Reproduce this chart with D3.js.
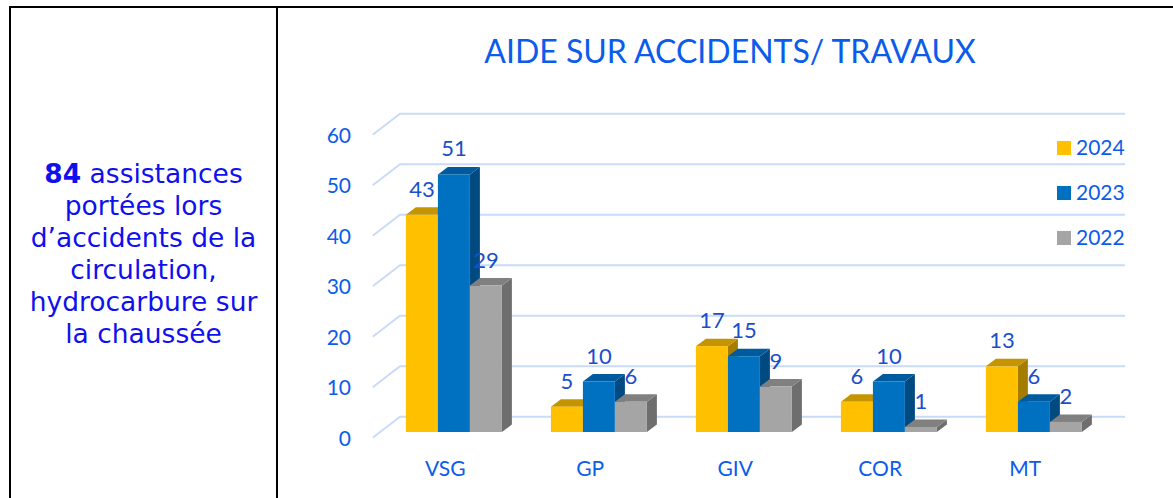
<!DOCTYPE html>
<html>
<head>
<meta charset="utf-8">
<script src="https://cdn.jsdelivr.net/npm/d3@7"></script>
<style>
  body { margin: 0; background: #fff; }
</style>
</head>
<body>
<script>
// Width and height
var w = 1173;
var h = 498;

// Data
var categories = ["VSG", "GP", "GIV", "COR", "MT"];
var seriesNames = ["2024", "2023", "2022"];
var values2024 = [43, 5, 17, 6, 13];
var values2023 = [51, 10, 15, 10, 6];
var values2022 = [29, 6, 9, 1, 2];
var yTicks = [0, 10, 20, 30, 40, 50, 60];

var seriesValues = [values2024, values2023, values2022];

// Colours: front, top, side
var colors = [
  { front: "#FFC000", top: "#C49500", side: "#A47D00" },
  { front: "#0070C0", top: "#005A9E", side: "#004A82" },
  { front: "#A5A5A5", top: "#808080", side: "#6E6E6E" }
];

var chartFont = "Lato, 'Open Sans', sans-serif";
var blueText = "#0B5CEB";
var valueText = "#1A4ECC";

// 3D offsets
var wallDx = 27.3, wallDy = -21;     // front-left end of a gridline -> back wall
var frontDy = 5.7;                   // front edge of gridline vs bar front plane
var barShift = 8.7;                  // bars sit a little behind the front plane
var depthDx = 10, depthDy = -7.5;    // bar depth

// Create SVG element
var svg = d3.select("body")
            .append("svg")
            .attr("width", w)
            .attr("height", h);

// Table borders
svg.append("line").attr("x1", 9).attr("x2", w).attr("y1", 7).attr("y2", 7)
   .attr("stroke", "#000").attr("stroke-width", 2);
svg.append("line").attr("x1", 10).attr("x2", 10).attr("y1", 6).attr("y2", h)
   .attr("stroke", "#000").attr("stroke-width", 2);
svg.append("line").attr("x1", 277).attr("x2", 277).attr("y1", 6).attr("y2", h)
   .attr("stroke", "#000").attr("stroke-width", 2);

// Left text
var leftLines = [
  [{ t: "84", b: true }, { t: " assistances", b: false }],
  [{ t: "portées lors", b: false }],
  [{ t: "d’accidents de la", b: false }],
  [{ t: "circulation,", b: false }],
  [{ t: "hydrocarbure sur", b: false }],
  [{ t: "la chaussée", b: false }]
];
var leftText = svg.append("text")
   .attr("text-anchor", "middle")
   .attr("font-family", "'DejaVu Sans', Verdana, sans-serif")
   .attr("font-size", "26.5px")
   .attr("fill", "#1010EE");
leftLines.forEach(function(line, i) {
  line.forEach(function(part, j) {
    var ts = leftText.append("tspan").text(part.t)
       .attr("font-weight", part.b ? "bold" : "normal");
    if (j === 0) ts.attr("x", 143.5).attr("y", 183 + i * 32);
  });
});

// Scales
var y = d3.scaleLinear()
          .domain([0, 60])
          .range([432, 129]);

var x = d3.scaleBand()
          .domain(categories)
          .range([372.7, 1097.7])
          .paddingInner(0.338)
          .paddingOuter(0.169);

var xInner = d3.scaleBand()
               .domain(d3.range(seriesNames.length))
               .range([0, x.bandwidth()]);

// Title
svg.append("text")
   .text("AIDE SUR ACCIDENTS/ TRAVAUX")
   .attr("x", 730)
   .attr("y", 63)
   .attr("text-anchor", "middle")
   .attr("font-family", chartFont)
   .attr("font-size", "32px")
   .attr("fill", blueText);

// Gridlines (diagonal front part + back wall line)
var grid = svg.append("g");
yTicks.forEach(function(t) {
  var yf = y(t) + frontDy;
  grid.append("polyline")
      .attr("points", [[372.7, yf], [372.7 + wallDx, yf + wallDy], [1097.7 + wallDx, yf + wallDy]].join(" "))
      .attr("fill", "none")
      .attr("stroke", "#C9DBF8")
      .attr("stroke-width", 2);
});

// Y axis labels
svg.selectAll("text.ytick")
   .data(yTicks)
   .enter()
   .append("text")
   .attr("class", "ytick")
   .text(function(d) { return d; })
   .attr("x", 351)
   .attr("y", function(d) { return y(d) + frontDy + 8; })
   .attr("text-anchor", "end")
   .attr("font-family", chartFont)
   .attr("font-size", "21px")
   .attr("fill", blueText);

// Bars, drawn left to right so each bar covers the side of the one before
var bars = svg.append("g");
categories.forEach(function(cat, ci) {
  seriesValues.forEach(function(vals, si) {
    var v = vals[ci];
    var x0 = x(cat) + xInner(si) + barShift;
    var bw = xInner.bandwidth();
    var yt = y(v), yb = y(0);
    var c = colors[si];
    // side
    bars.append("polygon")
        .attr("points", [[x0 + bw, yt], [x0 + bw + depthDx, yt + depthDy], [x0 + bw + depthDx, yb + depthDy], [x0 + bw, yb]].join(" "))
        .attr("fill", c.side);
    // top
    bars.append("polygon")
        .attr("points", [[x0, yt], [x0 + depthDx, yt + depthDy], [x0 + bw + depthDx, yt + depthDy], [x0 + bw, yt]].join(" "))
        .attr("fill", c.top);
    // front
    bars.append("rect")
        .attr("x", x0)
        .attr("y", yt)
        .attr("width", bw)
        .attr("height", yb - yt)
        .attr("fill", c.front);
  });
});

// Value labels
categories.forEach(function(cat, ci) {
  seriesValues.forEach(function(vals, si) {
    var v = vals[ci];
    svg.append("text")
       .text(v)
       .attr("x", x(cat) + xInner(si) + barShift + xInner.bandwidth() / 2)
       .attr("y", y(v) - 18)
       .attr("text-anchor", "middle")
       .attr("font-family", chartFont)
       .attr("font-size", "22px")
       .attr("fill", valueText);
  });
});

// Category labels
svg.selectAll("text.cat")
   .data(categories)
   .enter()
   .append("text")
   .attr("class", "cat")
   .text(function(d) { return d; })
   .attr("x", function(d) { return x(d) + x.bandwidth() / 2; })
   .attr("y", 476)
   .attr("text-anchor", "middle")
   .attr("font-family", chartFont)
   .attr("font-size", "21px")
   .attr("fill", blueText);

// Legend
var legend = svg.selectAll("g.legend")
   .data(seriesNames)
   .enter()
   .append("g")
   .attr("class", "legend")
   .attr("transform", function(d, i) { return "translate(1057," + (141 + i * 45) + ")"; });

legend.append("rect")
   .attr("width", 14)
   .attr("height", 14)
   .attr("fill", function(d, i) { return colors[i].front; });

legend.append("text")
   .text(function(d) { return d; })
   .attr("x", 19)
   .attr("y", 13.5)
   .attr("font-family", chartFont)
   .attr("font-size", "21px")
   .attr("fill", blueText);
</script>
</body>
</html>
